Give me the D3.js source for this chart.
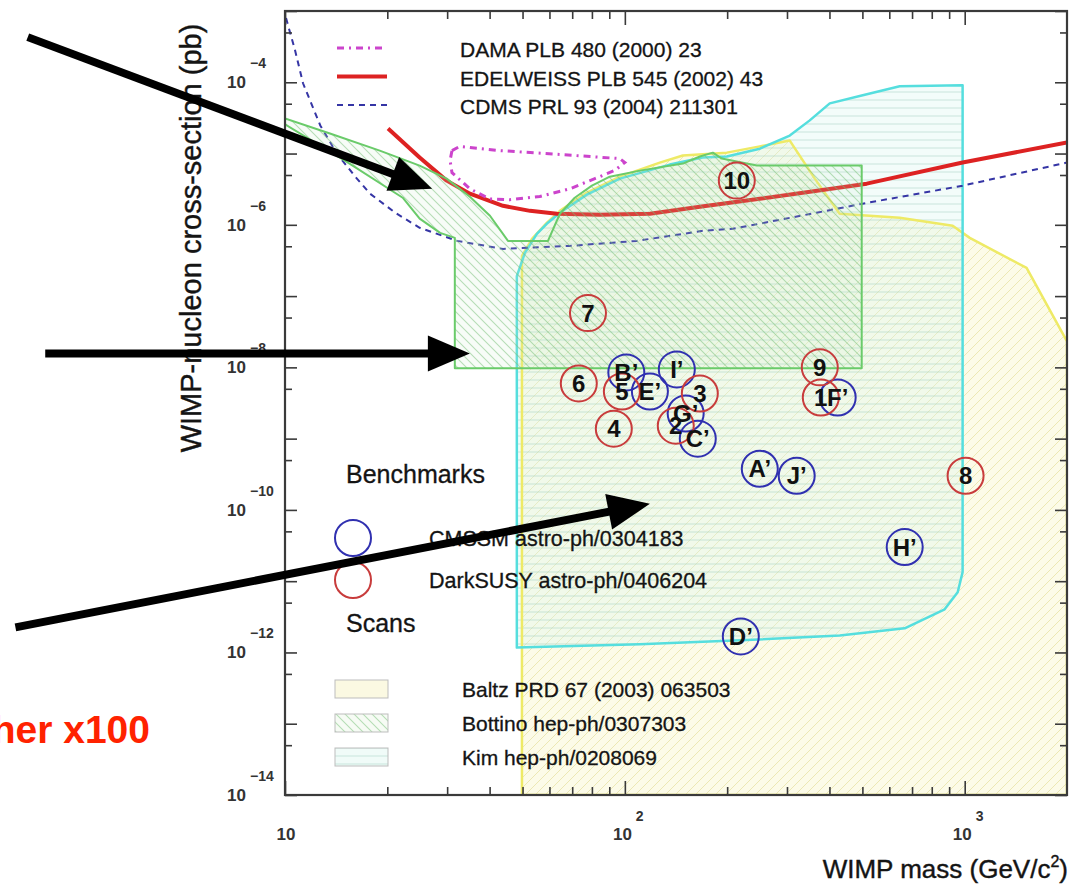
<!DOCTYPE html>
<html>
<head>
<meta charset="utf-8">
<script src="https://cdn.jsdelivr.net/npm/d3@7/dist/d3.min.js"></script>
<style>
  html, body { margin: 0; padding: 0; background: #ffffff; }
  svg text { font-family: "Liberation Sans", Arial, Helvetica, sans-serif; }
</style>
</head>
<body>
<svg id="chart" width="1073" height="885"></svg>
<script>
// ---------- axes ----------
const massDomain = [10, 2000];        // WIMP mass, GeV/c^2
const sigmaDomain = [1e-14, 1e-3];    // cross-section, pb
const xDecadeTicks = [10, 100, 1000];
const xSubTicks = [20, 30, 40, 50, 60, 70, 80, 90, 200, 300, 400, 500, 600, 700, 800, 900];
const yDecadeTicks = [1e-14, 1e-13, 1e-12, 1e-11, 1e-10, 1e-9, 1e-8, 1e-7, 1e-6, 1e-5, 1e-4, 1e-3];
const yHalfTicks = [5e-14, 5e-13, 5e-12, 5e-11, 5e-10, 5e-9, 5e-8, 5e-7, 5e-6, 5e-5, 5e-4];
const xTickExponents = [1, 2, 3];
const yTickExponents = [-4, -6, -8, -10, -12, -14];

// ---------- experimental limits, [mass, sigma] ----------
const damaRegion = [
  [31.0, 1.10e-5], [32.7, 1.26e-5], [42.9, 1.10e-5], [64.4, 9.7e-6], [96.6, 8.5e-6],
  [100, 7.5e-6], [93.4, 5.8e-6], [81.6, 4.45e-6], [68.9, 3.2e-6], [56.2, 2.5e-6],
  [45.9, 2.25e-6], [40.1, 2.3e-6], [35.0, 3.2e-6], [31.0, 5.4e-6], [30.6, 8.0e-6]
];
const edelweissLimit = [
  [20.1, 2.25e-5], [24.9, 8.79e-6], [29.9, 4.17e-6], [35.0, 2.73e-6], [43.8, 1.85e-6],
  [52.6, 1.57e-6], [63.1, 1.43e-6], [84.4, 1.38e-6], [118.5, 1.43e-6], [166.2, 1.79e-6],
  [249.5, 2.32e-6], [515, 3.78e-6], [986, 7.47e-6], [2000, 1.43e-5]
];
const cdmsLimit = [
  [10.07, 7.96e-4], [10.7, 2.83e-4], [11.3, 9.68e-5], [12.7, 2.48e-5], [14.2, 1.0e-5],
  [16.1, 4.74e-6], [17.8, 2.73e-6], [21.1, 1.48e-6], [24.9, 9.08e-7], [32.1, 5.95e-7],
  [43.8, 4.59e-7], [68.9, 5.06e-7], [108.4, 5.95e-7], [169.5, 8.23e-7], [207.8, 8.79e-7],
  [367, 1.48e-6], [501, 1.98e-6], [986, 3.54e-6], [2000, 7.47e-6]
];

// ---------- theoretical scans, [mass, sigma] ----------
const baltzScan = [
  [49.8, 1e-14], [49.8, 3.66e-7], [53.3, 6.35e-7], [59.0, 1.07e-6], [64.4, 1.57e-6],
  [76.3, 2.73e-6], [96.7, 4.74e-6], [126.7, 7.47e-6], [148.1, 9.37e-6], [199.5, 1.03e-5],
  [249.5, 1.26e-5], [305.7, 1.52e-5], [362.2, 4.45e-6], [428.7, 1.43e-6], [643.7, 1.26e-6],
  [922, 9.68e-7], [1035, 6.56e-7], [1521, 2.48e-7], [2000, 2.32e-8], [2000, 1e-14]
];
const bottinoScan = [
  [10, 3.11e-5], [13.56, 1.91e-5], [19.0, 1.10e-5], [24.9, 6.78e-6], [29.9, 4.45e-6],
  [35.0, 2.48e-6], [40.1, 1.34e-6], [45.3, 5.95e-7], [59.4, 5.95e-7], [64.4, 1.43e-6],
  [71.2, 2.40e-6], [80.0, 3.54e-6], [90.3, 4.74e-6], [110.7, 5.76e-6], [148.1, 7.23e-6],
  [166.2, 9.08e-6], [181.5, 1.03e-5], [192.9, 8.5e-6], [244.4, 6.78e-6], [497.7, 6.78e-6],
  [497.7, 9.68e-9], [31.6, 9.68e-9], [31.6, 6.56e-7], [28.6, 7.71e-7], [24.9, 1.22e-6],
  [22.2, 2.40e-6], [15.0, 7.97e-6], [10, 2.56e-5]
];
const kimScan = [
  [48.1, 1.17e-12], [48.1, 1.91e-7], [50.8, 4.03e-7], [55.1, 7.47e-7], [59.4, 1.07e-6],
  [64.4, 1.48e-6], [77.3, 2.65e-6], [96.7, 4.45e-6], [135.6, 7.0e-6], [169.5, 8.79e-6],
  [199.5, 9.08e-6], [249.5, 1.17e-5], [305.7, 1.79e-5], [350.0, 2.92e-5], [400.8, 5.06e-5],
  [501.2, 6.56e-5], [643.7, 8.79e-5], [986, 9.08e-5], [986, 1.34e-11], [953.6, 7.0e-12],
  [873, 4.03e-12], [666, 2.18e-12], [429, 1.73e-12], [219.4, 1.48e-12], [110.7, 1.30e-12]
];

// ---------- benchmark models ----------
const cmssmLabels = ["A\u2019", "B\u2019", "C\u2019", "D\u2019", "E\u2019", "F\u2019", "G\u2019", "H\u2019", "I\u2019", "J\u2019"];
const cmssmMass   = [249.5, 101, 163.9, 219.4, 118.5, 422.9, 151.0, 666, 142.2, 320.4];
const cmssmSigma  = [3.78e-10, 8.5e-9, 1.0e-9, 1.68e-12, 4.59e-9, 3.78e-9, 2.25e-9, 3.01e-11, 9.37e-9, 3.01e-10];
const darksusyLabels = ["1", "2", "3", "4", "5", "6", "7", "8", "9", "10"];
const darksusyMass   = [377.2, 141.2, 166.2, 92.8, 98.0, 73.2, 77.9, 1006, 374.6, 213.5];
const darksusySigma  = [3.78e-9, 1.52e-9, 4.3e-9, 1.38e-9, 4.59e-9, 5.95e-9, 5.77e-8, 3.01e-10, 1.0e-8, 4.17e-6];

// ---------- legend texts ----------
const limitNames = ["DAMA PLB 480 (2000) 23", "EDELWEISS PLB 545 (2002) 43", "CDMS PRL 93 (2004) 211301"];
const benchmarkNames = ["CMSSM astro-ph/0304183", "DarkSUSY astro-ph/0406204"];
const scanNames = ["Baltz PRD 67 (2003) 063503", "Bottino hep-ph/0307303", "Kim hep-ph/0208069"];

// ---------- annotation arrows, [mass, sigma] ----------
const arrowStarts = [[1.75, 4.3e-4], [1.97, 1.57e-8], [1.61, 2.25e-12]];
const arrowTips   = [[27.1, 3.21e-6], [35.0, 1.57e-8], [118.5, 1.22e-10]];

// =====================================================
const svg = d3.select("#chart");
const x = d3.scaleLog().domain(massDomain).range([285, 1067]);
const y = d3.scaleLog().domain(sigmaDomain).range([795, 11]);
const line = d3.line().x(d => x(d[0])).y(d => y(d[1]));

const C = {
  dama: "#cc44cc", edelweiss: "#dd2222", cdms: "#3535a5",
  baltz: "#eeea66", bottino: "#6acb6a", kim: "#55dede",
  blue: "#3030b0", red: "#c83c3c", frame: "#3a3a3a", text: "#141414"
};

const defs = svg.append("defs");
defs.append("clipPath").attr("id", "plotClip")
  .append("rect").attr("x", 285).attr("y", 11).attr("width", 782).attr("height", 784);

function hatch(id, size, bg, stroke, sw, kind) {
  const p = defs.append("pattern").attr("id", id)
    .attr("patternUnits", "userSpaceOnUse").attr("width", size).attr("height", size);
  if (bg) p.append("rect").attr("width", size).attr("height", size).attr("fill", bg);
  let d;
  if (kind === "h") d = `M0,${size / 2}H${size}`;
  else if (kind === "/") d = `M0,${size}L${size},0M-1,1L1,-1M${size - 1},${size + 1}L${size + 1},${size - 1}`;
  else d = `M0,0L${size},${size}M-1,${size - 1}L1,${size + 1}M${size - 1},-1L${size + 1},1`;
  p.append("path").attr("d", d).attr("stroke", stroke).attr("stroke-width", sw).attr("fill", "none");
}
hatch("baltzHatch", 10, "#fcfbe8", "#ece8b4", 1, "/");
hatch("kimHatch", 8, "rgba(215,245,238,0.3)", "rgba(160,205,190,0.5)", 1, "h");
hatch("bottinoHatch", 9, "rgba(200,236,200,0.15)", "rgba(115,190,115,0.5)", 1.1, "\\");
hatch("bottinoKey", 9, "#f6fbf4", "rgba(115,190,115,0.5)", 1.1, "\\");
hatch("kimKey", 8, "#f0fbf8", "rgba(160,205,190,0.5)", 1, "h");

const plot = svg.append("g").attr("clip-path", "url(#plotClip)");

// scan regions (fills)
plot.append("path").attr("d", line(baltzScan) + "Z").attr("fill", "url(#baltzHatch)");
plot.append("path").attr("d", line(kimScan) + "Z").attr("fill", "url(#kimHatch)");

// outlines under the limits
plot.append("path").attr("d", line(baltzScan) + "Z").attr("fill", "none")
  .attr("stroke", C.baltz).attr("stroke-width", 2.5).attr("stroke-linejoin", "round");
plot.append("path").attr("d", line(kimScan) + "Z").attr("fill", "none")
  .attr("stroke", C.kim).attr("stroke-width", 2.5).attr("stroke-linejoin", "round");

// exclusion limits
plot.append("path").attr("d", line(cdmsLimit)).attr("fill", "none")
  .attr("stroke", C.cdms).attr("stroke-width", 2).attr("stroke-dasharray", "6,5");
plot.append("path").attr("d", line(edelweissLimit)).attr("fill", "none")
  .attr("stroke", C.edelweiss).attr("stroke-width", 4).attr("stroke-linejoin", "round");
plot.append("path").attr("d", line(damaRegion) + "Z").attr("fill", "none")
  .attr("stroke", C.dama).attr("stroke-width", 3).attr("stroke-dasharray", "7,5,2,5");

// Bottino region drawn over the limits
plot.append("path").attr("d", line(bottinoScan) + "Z").attr("fill", "url(#bottinoHatch)")
  .attr("stroke", C.bottino).attr("stroke-width", 2).attr("stroke-linejoin", "round");

// benchmark circles
const cmssm = cmssmLabels.map((l, i) => ({ label: l, m: cmssmMass[i], s: cmssmSigma[i], c: C.blue }));
const dsusy = darksusyLabels.map((l, i) => ({ label: l, m: darksusyMass[i], s: darksusySigma[i], c: C.red }));
const allPts = cmssm.concat(dsusy);
plot.selectAll("circle.bm").data(allPts).join("circle").attr("class", "bm")
  .attr("cx", d => x(d.m)).attr("cy", d => y(d.s)).attr("r", 18)
  .attr("fill", "none").attr("stroke", d => d.c).attr("stroke-width", 2);
plot.selectAll("text.bm").data(allPts).join("text").attr("class", "bm")
  .attr("x", d => x(d.m)).attr("y", d => y(d.s)).attr("dy", "0.36em")
  .attr("text-anchor", "middle").attr("font-size", 24).attr("font-weight", "bold")
  .attr("fill", "#111").text(d => d.label);

// ---------- frame and ticks ----------
function tickGroup(axis, tx, ty) {
  const g = svg.append("g").attr("transform", `translate(${tx},${ty})`).call(axis);
  g.select(".domain").remove();
  g.selectAll("line").attr("stroke", C.frame).attr("stroke-width", 1.6);
  return g;
}
const noLab = () => "";
tickGroup(d3.axisBottom(x).tickValues(xDecadeTicks).tickSize(-14).tickFormat(noLab), 0, 795);
tickGroup(d3.axisBottom(x).tickValues(xSubTicks).tickSize(-8).tickFormat(noLab), 0, 795);
tickGroup(d3.axisTop(x).tickValues(xDecadeTicks).tickSize(-14).tickFormat(noLab), 0, 11);
tickGroup(d3.axisTop(x).tickValues(xSubTicks).tickSize(-8).tickFormat(noLab), 0, 11);
tickGroup(d3.axisLeft(y).tickValues(yDecadeTicks).tickSize(-12).tickFormat(noLab), 285, 0);
tickGroup(d3.axisLeft(y).tickValues(yHalfTicks).tickSize(-7).tickFormat(noLab), 285, 0);
tickGroup(d3.axisRight(y).tickValues(yDecadeTicks).tickSize(-12).tickFormat(noLab), 1067, 0);
tickGroup(d3.axisRight(y).tickValues(yHalfTicks).tickSize(-7).tickFormat(noLab), 1067, 0);
svg.append("rect").attr("x", 285).attr("y", 11).attr("width", 782).attr("height", 784)
  .attr("fill", "none").attr("stroke", C.frame).attr("stroke-width", 2.2);

// y tick labels (10^n)
yTickExponents.forEach(e => {
  const yy = y(Math.pow(10, e));
  svg.append("text").attr("x", 246).attr("y", yy + 6).attr("text-anchor", "end")
    .attr("font-size", 17).attr("font-weight", "bold").attr("fill", "#333").text("10");
  svg.append("text").attr("x", 250).attr("y", yy - 14).attr("text-anchor", "start")
    .attr("font-size", 14).attr("font-weight", "bold").attr("fill", "#333")
    .text(String(e).replace("-", "\u2212"));
});
// x tick labels
xTickExponents.forEach(e => {
  const xx = x(Math.pow(10, e));
  if (e === 1) {
    svg.append("text").attr("x", xx + 1).attr("y", 840).attr("text-anchor", "middle")
      .attr("font-size", 17).attr("font-weight", "bold").attr("fill", "#333").text("10");
  } else {
    svg.append("text").attr("x", xx + 7).attr("y", 840).attr("text-anchor", "end")
      .attr("font-size", 17).attr("font-weight", "bold").attr("fill", "#333").text("10");
    svg.append("text").attr("x", xx + 11).attr("y", 821).attr("text-anchor", "start")
      .attr("font-size", 14).attr("font-weight", "bold").attr("fill", "#333").text(String(e));
  }
});

// axis titles
svg.append("text").attr("transform", "translate(201,238) rotate(-90)")
  .attr("text-anchor", "middle").attr("font-size", 29).attr("fill", C.text)
  .attr("stroke", C.text).attr("stroke-width", 0.4)
  .text("WIMP-nucleon cross-section (pb)");
const xt = svg.append("text").attr("x", 1068).attr("y", 878).attr("text-anchor", "end")
  .attr("font-size", 26).attr("fill", C.text).attr("stroke", C.text).attr("stroke-width", 0.4);
xt.append("tspan").text("WIMP mass (GeV/c");
xt.append("tspan").attr("font-size", 16).attr("dy", -11).text("2");
xt.append("tspan").attr("dy", 11).text(")");

// ---------- limits legend ----------
const limitStyles = [
  { c: C.dama, w: 3, dash: "7,5,2,5" },
  { c: C.edelweiss, w: 4, dash: null },
  { c: C.cdms, w: 2, dash: "6,5" }
];
limitNames.forEach((name, i) => {
  const yy = 48 + i * 28.5;
  const st = limitStyles[i];
  const l = svg.append("line").attr("x1", 337).attr("x2", 387).attr("y1", yy).attr("y2", yy)
    .attr("stroke", st.c).attr("stroke-width", st.w);
  if (st.dash) l.attr("stroke-dasharray", st.dash);
  svg.append("text").attr("x", 460).attr("y", yy + 9).attr("font-size", 21)
    .attr("fill", C.text).attr("stroke", C.text).attr("stroke-width", 0.3).text(name);
});

// ---------- benchmark legend ----------
svg.append("text").attr("x", 346).attr("y", 483).attr("font-size", 25).attr("fill", C.text)
  .attr("stroke", C.text).attr("stroke-width", 0.3).text("Benchmarks");
[C.blue, C.red].forEach((c, i) => {
  const yy = 538 + i * 42;
  svg.append("circle").attr("cx", 353).attr("cy", yy).attr("r", 18)
    .attr("fill", "none").attr("stroke", c).attr("stroke-width", 2);
  svg.append("text").attr("x", 429).attr("y", yy + 8).attr("font-size", 21.5)
    .attr("fill", C.text).attr("stroke", C.text).attr("stroke-width", 0.3).text(benchmarkNames[i]);
});
svg.append("text").attr("x", 346).attr("y", 632).attr("font-size", 25).attr("fill", C.text)
  .attr("stroke", C.text).attr("stroke-width", 0.3).text("Scans");

// ---------- scans legend ----------
const scanKeys = ["#fbf9e2", "url(#bottinoKey)", "url(#kimKey)"];
scanNames.forEach((name, i) => {
  const yy = 689 + i * 34;
  svg.append("rect").attr("x", 335).attr("y", yy - 9).attr("width", 53).attr("height", 18)
    .attr("fill", scanKeys[i]).attr("stroke", "#bdbdbd").attr("stroke-width", 1);
  svg.append("text").attr("x", 462).attr("y", yy + 8).attr("font-size", 21)
    .attr("fill", C.text).attr("stroke", C.text).attr("stroke-width", 0.3).text(name);
});

// ---------- annotations ----------
svg.append("text").attr("x", 150).attr("y", 743).attr("text-anchor", "end")
  .attr("font-size", 39).attr("font-weight", "bold").attr("fill", "#ff2200").text("her x100");

const headLen = 42, headHalf = 18;
arrowStarts.forEach((s, i) => {
  const x0 = x(s[0]), y0 = y(s[1]);
  const x1 = x(arrowTips[i][0]), y1 = y(arrowTips[i][1]);
  const len = Math.hypot(x1 - x0, y1 - y0);
  const ux = (x1 - x0) / len, uy = (y1 - y0) / len;
  const bx = x1 - ux * headLen, by = y1 - uy * headLen;
  svg.append("line").attr("x1", x0).attr("y1", y0).attr("x2", bx + ux * 2).attr("y2", by + uy * 2)
    .attr("stroke", "#000").attr("stroke-width", 8);
  svg.append("path")
    .attr("d", `M${x1},${y1}L${bx - uy * headHalf},${by + ux * headHalf}L${bx + uy * headHalf},${by - ux * headHalf}Z`)
    .attr("fill", "#000");
});
</script>
</body>
</html>
